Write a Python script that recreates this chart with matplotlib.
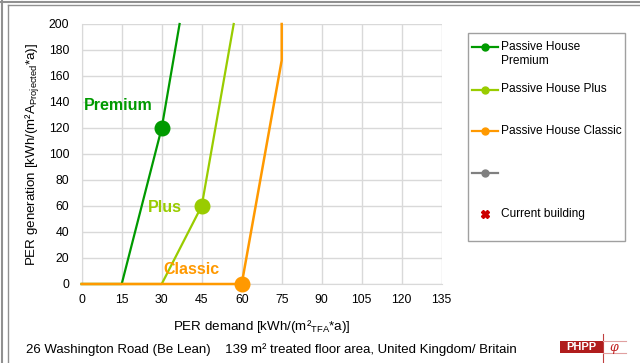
import matplotlib
matplotlib.use("Agg")
import matplotlib.pyplot as plt
from matplotlib.lines import Line2D
from matplotlib.patches import Rectangle

plt.rcParams['font.family'] = ['Liberation Sans', 'DejaVu Sans']

# Data
premium_x = [0, 15, 30, 36.7]
premium_y = [0, 0, 120, 200]
plus_x = [0, 30, 45, 57]
plus_y = [0, 0, 60, 200]
classic_x = [0, 60, 75, 75]
classic_y = [0, 0, 172, 200]
premium_pt = (30, 120)
plus_pt = (45, 60)
classic_pt = (60, 0)
x_ticks = [0, 15, 30, 45, 60, 75, 90, 105, 120, 135]
y_ticks = [0, 20, 40, 60, 80, 100, 120, 140, 160, 180, 200]
legend_labels = ['Passive House\nPremium', 'Passive House Plus', 'Passive House Classic', '', 'Current building']

c_prem = '#009a00'
c_plus = '#99cc00'
c_class = '#ff9900'
c_grey = '#808080'
c_cur = '#cc0000'

W, H = 640, 363
fig = plt.figure(figsize=(W/100, H/100), dpi=100)
ax = fig.add_axes([81.7/W, 1 - 284/H, 360/W, 260/H])

ax.plot(premium_x, premium_y, color=c_prem, lw=1.6, zorder=3, clip_on=False)
ax.plot(plus_x, plus_y, color=c_plus, lw=1.6, zorder=3, clip_on=False)
ax.plot(classic_x, classic_y, color=c_class, lw=1.8, zorder=4, clip_on=False)
ax.plot(*premium_pt, 'o', color=c_prem, ms=10.5, zorder=5, clip_on=False)
ax.plot(*plus_pt, 'o', color=c_plus, ms=10.5, zorder=5, clip_on=False)
ax.plot(*classic_pt, 'o', color=c_class, ms=10.5, zorder=5, clip_on=False)

ax.text(1.0, 137, 'Premium', color=c_prem, fontsize=11.5, fontweight='bold', va='center')
ax.text(25.0, 59, 'Plus', color=c_plus, fontsize=11.5, fontweight='bold', va='center')
ax.text(30.5, 11, 'Classic', color=c_class, fontsize=11.5, fontweight='bold', va='center')

ax.set_xlim(0, 135)
ax.set_ylim(0, 200)
ax.set_xticks(x_ticks)
ax.set_yticks(y_ticks)
ax.tick_params(axis='both', length=0, labelsize=8.8)
ax.tick_params(axis='x', pad=7)
ax.tick_params(axis='y', pad=9)
ax.grid(True, color='#d9d9d9', lw=1)
ax.set_axisbelow(True)
for s in ['top', 'right']:
    ax.spines[s].set_visible(False)
ax.spines['left'].set_color('#d9d9d9')
ax.spines['bottom'].set_color('#d9d9d9')

ax.set_xlabel('PER demand [kWh/(m²$_{\\mathregular{TFA}}$*a)]', fontsize=9.6, labelpad=9)
ax.set_ylabel('PER generation [kWh/(m²A$_{\\mathregular{Projected}}$*a)]', fontsize=9.6, labelpad=5)

# Legend (drawn manually in figure pixels)
tf = fig.transFigure
def fx(px):
    return px / W
def fy(py):
    return 1 - py / H

fig.patches.append(Rectangle((fx(468), fy(241)), (625-468)/W, (241-33)/H, transform=tf,
                             facecolor='white', edgecolor='#a0a0a0', lw=1))
leg_cols = [c_prem, c_plus, c_class, c_grey]
leg_y = [47, 90, 131, 173]
for col, yy, lab in zip(leg_cols, leg_y, legend_labels[:4]):
    fig.add_artist(Line2D([fx(472), fx(498)], [fy(yy), fy(yy)], color=col, lw=1.6, transform=tf))
    fig.add_artist(Line2D([fx(485)], [fy(yy)], color=col, marker='o', ms=5, lw=0, transform=tf))
    if lab:
        fig.text(fx(501), fy(yy), lab, fontsize=8.6, va='top', ha='left',
                 transform=tf, linespacing=1.25).set_position((fx(501), fy(yy - 6.5)))
fig.add_artist(Line2D([fx(485)], [fy(214)], color=c_cur, marker='X', ms=6, lw=0, transform=tf))
fig.text(fx(501), fy(214), legend_labels[4], fontsize=8.6, va='center', ha='left')

# footer
fig.text(26/W, 1 - 350/H, '26 Washington Road (Be Lean)    139 m² treated floor area, United Kingdom/ Britain',
         fontsize=9.5, va='center', ha='left')

# PHPP logo
fig.patches.append(Rectangle((560/W, 1 - 353/H), 43/W, 12/H, transform=tf,
                             facecolor='#b01c1c', edgecolor='none'))
fig.text(581.5/W, 1 - 347/H, 'PHPP', color='white', fontsize=8, fontweight='bold',
         ha='center', va='center')
fig.add_artist(Line2D([603/W, 603/W], [1 - 334/H, 1 - 363/H], color='#c04040', lw=0.8, transform=tf))
fig.add_artist(Line2D([603/W, 626/W], [1 - 341/H, 1 - 341/H], color='#e0a0a0', lw=0.8, transform=tf))
fig.add_artist(Line2D([603/W, 626/W], [1 - 353/H, 1 - 353/H], color='#e0a0a0', lw=0.8, transform=tf))
fig.text(614/W, 1 - 347/H, 'φ', color='#c02020', fontsize=9, style='italic',
         ha='center', va='center', family=['DejaVu Serif'])

# outer frame
fc = '#909090'
fig.add_artist(Line2D([1/W, 1], [1 - 1.5/H, 1 - 1.5/H], color=fc, lw=1.5, transform=tf))
fig.add_artist(Line2D([8/W, 1], [1 - 5/H, 1 - 5/H], color=fc, lw=1, transform=tf))
fig.add_artist(Line2D([1.5/W, 1.5/W], [0, 1 - 1/H], color=fc, lw=1.5, transform=tf))
fig.add_artist(Line2D([8/W, 8/W], [0, 1 - 5/H], color=fc, lw=1, transform=tf))

fig.savefig('out.png', dpi=100)
